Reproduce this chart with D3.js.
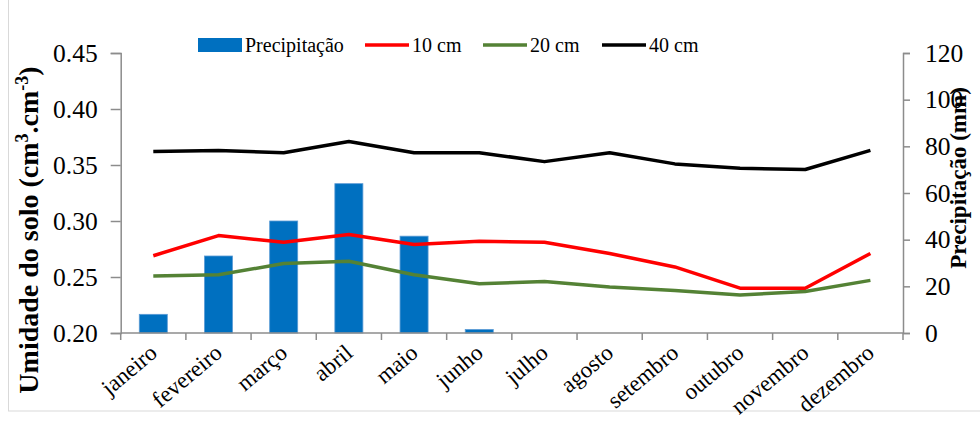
<!DOCTYPE html>
<html>
<head>
<meta charset="utf-8">
<script src="https://cdn.jsdelivr.net/npm/d3@7"></script>
<style>
  body { margin: 0; background: #fff; }
  svg { display: block; font-family: "Liberation Serif", "Times New Roman", serif; }
</style>
</head>
<body>
<div id="chart"></div>
<script>
// months on the x axis
const months = ["janeiro", "fevereiro", "março", "abril", "maio", "junho",
                "julho", "agosto", "setembro", "outubro", "novembro", "dezembro"];

// precipitation (mm) - right axis
const precip = [8, 33, 48, 64, 41.5, 1.5, 0, 0, 0, 0, 0, 0];

// soil moisture (cm3.cm-3) - left axis
const moist10 = [0.269, 0.287, 0.281, 0.288, 0.279, 0.282, 0.281, 0.271, 0.259, 0.240, 0.240, 0.271];
const moist20 = [0.251, 0.252, 0.262, 0.264, 0.252, 0.244, 0.246, 0.241, 0.238, 0.234, 0.237, 0.247];
const moist40 = [0.362, 0.363, 0.361, 0.371, 0.361, 0.361, 0.353, 0.361, 0.351, 0.347, 0.346, 0.363];

const leftTicks = [0.20, 0.25, 0.30, 0.35, 0.40, 0.45];
const rightTicks = [0, 20, 40, 60, 80, 100, 120];

const W = 980, H = 423;
const plot = { left: 120.7, right: 903, top: 53, bottom: 333 };
const axisColor = "#8c8c8c";
const serif = "'Liberation Serif', 'Times New Roman', serif";

const svg = d3.select("#chart").append("svg")
    .attr("width", W)
    .attr("height", H);

// faint chart frame
svg.append("rect")
    .attr("x", 8.5).attr("y", -2)
    .attr("width", 1000).attr("height", 413)
    .attr("fill", "none")
    .attr("stroke", "#d9d9d9");

// scales
const x = d3.scaleBand()
    .domain(months)
    .range([plot.left, plot.right])
    .paddingInner(0.57)
    .paddingOuter(0.285);
const xc = d => x(d) + x.bandwidth() / 2;

const yL = d3.scaleLinear().domain([0.20, 0.45]).range([plot.bottom, plot.top]);
const yR = d3.scaleLinear().domain([0, 120]).range([plot.bottom, plot.top]);

// bars (precipitation)
svg.append("g").selectAll("rect")
    .data(months.map((m, i) => ({ m, v: precip[i] })).filter(d => d.v > 0))
    .join("rect")
    .attr("x", d => x(d.m))
    .attr("y", d => yR(d.v))
    .attr("width", x.bandwidth())
    .attr("height", d => yR(0) - yR(d.v))
    .attr("fill", "#0070c0")
    .attr("stroke", "#5b9bd5")
    .attr("stroke-width", 0.8);

// axes
const gL = svg.append("g")
    .attr("transform", `translate(${plot.left},0)`)
    .call(d3.axisLeft(yL).tickValues(leftTicks).tickFormat(d3.format(".2f")).tickSizeOuter(0).tickSize(10).tickPadding(13));
const gR = svg.append("g")
    .attr("transform", `translate(${plot.right},0)`)
    .call(d3.axisRight(yR).tickValues(rightTicks).tickSizeOuter(0).tickSize(7).tickPadding(15));
[gL, gR].forEach(g => {
    g.attr("font-family", null).attr("font-size", null);
    g.select(".domain").attr("stroke", axisColor).attr("stroke-width", 1.5);
    g.selectAll(".tick line").attr("stroke", axisColor).attr("stroke-width", 1.5);
    g.selectAll(".tick text").attr("fill", "#000")
        .style("font-family", serif)
        .style("font-size", "25.5px");
});

// x axis: baseline with ticks at category boundaries
const gX = svg.append("g");
gX.append("line")
    .attr("x1", plot.left).attr("x2", plot.right)
    .attr("y1", plot.bottom).attr("y2", plot.bottom)
    .attr("stroke", axisColor).attr("stroke-width", 1.5);
gX.selectAll("line.tk")
    .data(d3.range(months.length + 1))
    .join("line")
    .attr("class", "tk")
    .attr("x1", i => plot.left + i * x.step())
    .attr("x2", i => plot.left + i * x.step())
    .attr("y1", plot.bottom)
    .attr("y2", plot.bottom + 7)
    .attr("stroke", axisColor).attr("stroke-width", 1.5);
gX.selectAll("text")
    .data(months)
    .join("text")
    .attr("transform", d => `translate(${xc(d)},${plot.bottom + 16}) rotate(-40)`)
    .attr("text-anchor", "end")
    .attr("dy", "0.35em")
    .style("font-size", "23px")
    .text(d => d);

// lines
const series = [
    { name: "10 cm", values: moist10, color: "#ff0000" },
    { name: "20 cm", values: moist20, color: "#548235" },
    { name: "40 cm", values: moist40, color: "#000000" }
];
const line = d3.line()
    .x((d, i) => xc(months[i]))
    .y(d => yL(d));
svg.append("g").selectAll("path")
    .data(series)
    .join("path")
    .attr("d", d => line(d.values))
    .attr("fill", "none")
    .attr("stroke", d => d.color)
    .attr("stroke-width", 3.5)
    .attr("stroke-linejoin", "round");

// axis titles
const leftTitle = svg.append("text")
    .attr("transform", `translate(38,230) rotate(-90)`)
    .attr("text-anchor", "middle")
    .style("font-weight", "bold")
    .style("font-size", "28px");
leftTitle.append("tspan").text("Umidade do solo (cm");
leftTitle.append("tspan").attr("baseline-shift", "super").style("font-size", "18px").text("3");
leftTitle.append("tspan").text(".cm");
leftTitle.append("tspan").attr("baseline-shift", "super").style("font-size", "18px").text("-3");
leftTitle.append("tspan").text(")");

svg.append("text")
    .attr("transform", `translate(966,178) rotate(-90)`)
    .attr("text-anchor", "middle")
    .style("font-weight", "bold")
    .style("font-size", "23px")
    .text("Precipitação (mm)");

// legend
const legend = svg.append("g").attr("transform", "translate(0,45)");
legend.append("rect")
    .attr("x", 198).attr("y", -7)
    .attr("width", 44).attr("height", 14)
    .attr("fill", "#0070c0");
legend.append("text")
    .attr("x", 245).attr("dy", "0.35em")
    .style("font-size", "20px")
    .text("Precipitação");
const legX = [365, 483, 602];
series.forEach((s, i) => {
    legend.append("line")
        .attr("x1", legX[i]).attr("x2", legX[i] + 44)
        .attr("stroke", s.color).attr("stroke-width", 3.5);
    legend.append("text")
        .attr("x", legX[i] + 47).attr("dy", "0.35em")
        .style("font-size", "20px")
        .text(s.name);
});
</script>
</body>
</html>
